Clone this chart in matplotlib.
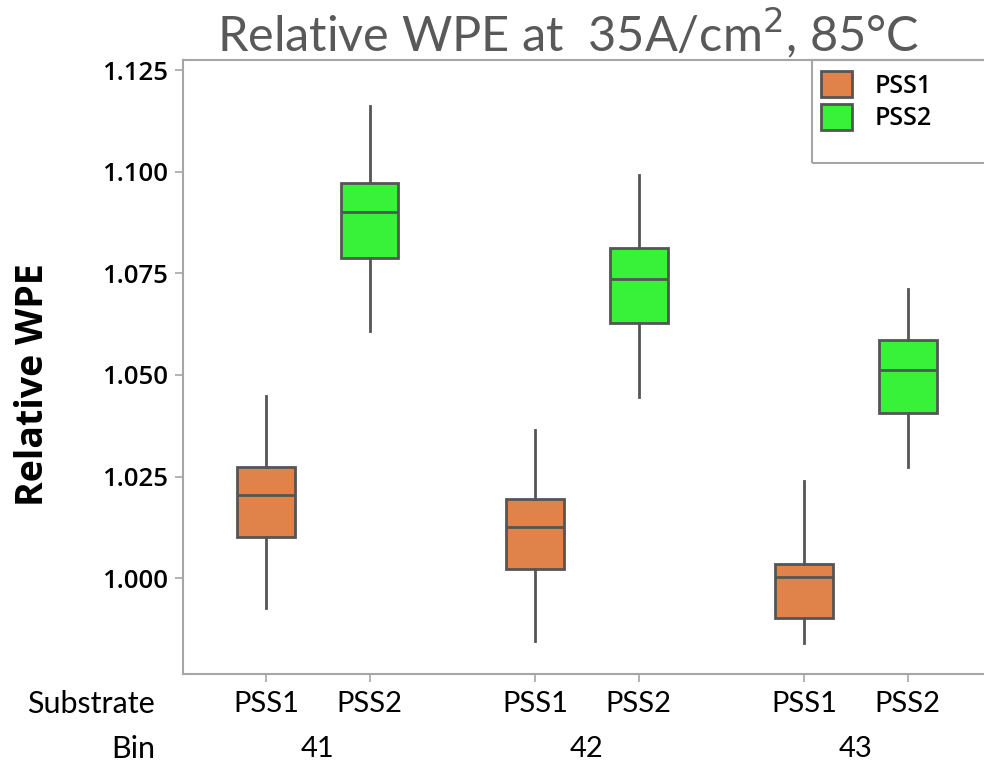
import matplotlib
matplotlib.use("Agg")
import matplotlib.pyplot as plt
from matplotlib.patches import Patch, Rectangle
from matplotlib import font_manager
import matplotlib.transforms as mtrans

# ---- data ----
bins = ["41", "42", "43"]
substrates = ["PSS1", "PSS2"]
# stats per bin: whisker low, Q1, median, Q3, whisker high
pss1_whislo = [0.9926, 0.9845, 0.9840]
pss1_q1 = [1.0101, 1.0022, 0.9902]
pss1_med = [1.0204, 1.0125, 1.0002]
pss1_q3 = [1.0273, 1.0194, 1.0034]
pss1_whishi = [1.0448, 1.0364, 1.0239]

pss2_whislo = [1.0608, 1.0445, 1.0273]
pss2_q1 = [1.0787, 1.0627, 1.0406]
pss2_med = [1.0901, 1.0736, 1.0512]
pss2_q3 = [1.0972, 1.0812, 1.0586]
pss2_whishi = [1.1161, 1.0992, 1.0711]

yticks = [1.000, 1.025, 1.050, 1.075, 1.100, 1.125]

colors = {"PSS1": "#E0834A", "PSS2": "#38F23A"}
edge = "#555555"
spine_c = "#A6A6A6"

def pick_font(names):
    avail = {f.name for f in font_manager.fontManager.ttflist}
    for n in names:
        if n in avail:
            return n
    return "DejaVu Sans"

title_font = pick_font(["Lato", "Open Sans"])
tick_font = pick_font(["Open Sans", "Noto Sans", "Lato"])
cat_font = pick_font(["Liberation Sans Narrow", "Lato"])

W, H = 984, 764
fig = plt.figure(figsize=(W / 100, H / 100), dpi=100)
L, B, T = 183, 674, 60
ax = fig.add_axes([L / W, 1 - B / H, 1 - L / W, (B - T) / H])

group_gap = 2.6
stats, positions, fcs, labels = [], [], [], []
for i, b in enumerate(bins):
    for j, s in enumerate(substrates):
        if s == "PSS1":
            st = dict(whislo=pss1_whislo[i], q1=pss1_q1[i], med=pss1_med[i],
                      q3=pss1_q3[i], whishi=pss1_whishi[i], fliers=[])
        else:
            st = dict(whislo=pss2_whislo[i], q1=pss2_q1[i], med=pss2_med[i],
                      q3=pss2_q3[i], whishi=pss2_whishi[i], fliers=[])
        stats.append(st)
        positions.append(i * group_gap + j)
        fcs.append(colors[s])
        labels.append(s)

bp = ax.bxp(stats, positions=positions, widths=0.56, patch_artist=True,
            showcaps=False, showfliers=False,
            boxprops=dict(edgecolor=edge, linewidth=2.0),
            whiskerprops=dict(color=edge, linewidth=2.0),
            medianprops=dict(color=edge, linewidth=2.0))
for patch, fc in zip(bp["boxes"], fcs):
    patch.set_facecolor(fc)

px_per_unit = 103.5
x0 = 266
ax.set_xlim((L - x0) / px_per_unit, (W - x0) / px_per_unit)
ax.set_ylim(0.9764, 1.1275)

ax.set_yticks(yticks)
ax.set_yticklabels([f"{v:.3f}" for v in yticks], fontsize=18.5,
                   fontfamily=tick_font, fontweight="semibold")
ax.set_xticks(positions)
ax.set_xticklabels([])
ax.tick_params(axis="both", direction="out", length=6, width=1.2, color=spine_c)
ax.tick_params(axis="y", pad=5)

for side in ["left", "bottom", "top"]:
    ax.spines[side].set_color(spine_c)
    ax.spines[side].set_linewidth(1.5)
ax.spines["right"].set_visible(False)

ax.set_ylabel("Relative WPE", fontsize=27, fontweight="bold",
              fontfamily=tick_font)
ax.yaxis.set_label_coords((52 - L) / (W - L), (B - 385) / (B - T))

# category labels below axis
trans = ax.get_xaxis_transform()
off1 = trans + mtrans.ScaledTranslation(0, -30 / 100, fig.dpi_scale_trans)
off2 = trans + mtrans.ScaledTranslation(0, -75 / 100, fig.dpi_scale_trans)
for p, s in zip(positions, labels):
    ax.text(p, 0, s, transform=off1, ha="center", va="center",
            fontsize=21, fontfamily=cat_font)
for i, b in enumerate(bins):
    ax.text(i * group_gap + 0.5, 0, b, ha="center", va="center", fontsize=21,
            fontfamily=cat_font, transform=off2)
fig.text(155 / W, 1 - 704 / H, "Substrate", ha="right", va="center",
         fontsize=22, fontfamily=cat_font)
fig.text(155 / W, 1 - 749 / H, "Bin", ha="right", va="center",
         fontsize=22, fontfamily=cat_font)

# title
fig.text(568 / W, 1 - 33 / H, "Relative WPE at  35A/cm$^2$, 85°C",
         ha="center", va="center", fontsize=35, color="#595959",
         fontfamily=title_font)

# legend with a box running off the right edge
fig.patches.append(Rectangle((812 / W, 1 - 163 / H), 200 / W, 103 / H,
                             transform=fig.transFigure, fill=False,
                             edgecolor=spine_c, linewidth=1.5, clip_on=False))
handles = [Patch(facecolor=colors[s], edgecolor=edge, linewidth=2.0, label=s)
           for s in substrates]
fig.legend(handles=handles, loc="upper left",
           bbox_to_anchor=(821 / W, 1 - 71 / H), frameon=False,
           prop=dict(family=tick_font, weight="semibold", size=18),
           handlelength=1.25, handleheight=1.25, labelspacing=0.2,
           handletextpad=0.9, borderaxespad=0, borderpad=0)

fig.savefig("out.png", dpi=100)
